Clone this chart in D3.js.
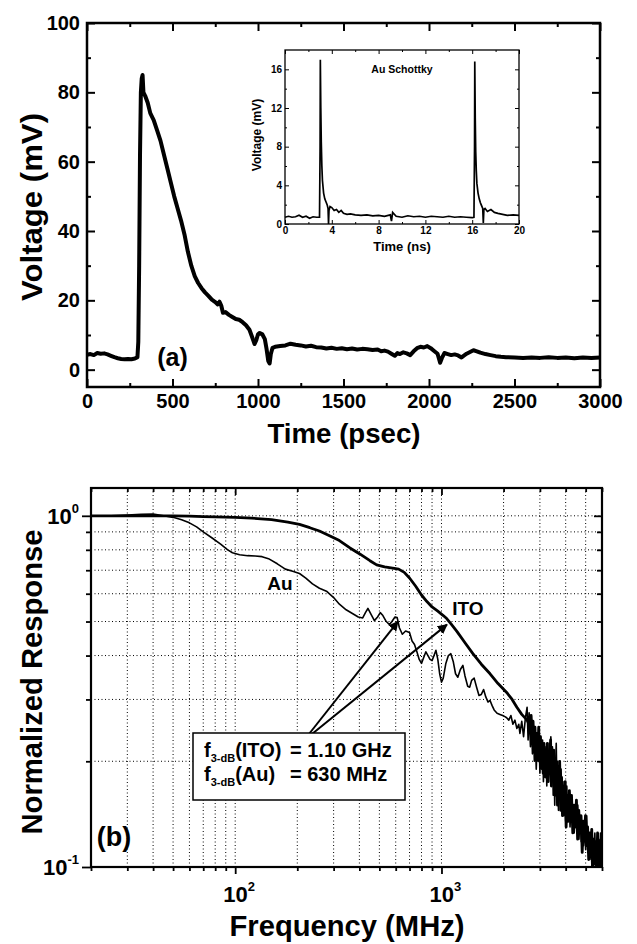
<!DOCTYPE html>
<html>
<head>
<meta charset="utf-8">
<script src="https://cdn.jsdelivr.net/npm/d3@7"></script>
<style>
  body { margin: 0; background: #fff; }
  svg text { font-family: "Liberation Sans", Arial, Helvetica, sans-serif; font-weight: bold; fill: #000; }
</style>
</head>
<body>
<svg id="fig" width="637" height="944"></svg>
<script>
// ---- panel (a): pulse response, ITO ----
const timePs = [0, 20, 40, 60, 80, 100, 120, 140, 160, 180, 200, 220, 240, 260, 280, 295, 300, 305, 310, 315, 320, 325, 330, 340, 355,
  370, 390, 410, 430, 450, 470, 490, 510, 530, 550, 570, 590, 610, 630, 650, 670, 690, 710, 730, 750, 765, 775, 785, 795, 810,
  830, 850, 870, 890, 910, 930, 950, 965, 980, 990, 1000, 1010, 1025, 1040, 1050, 1060, 1068, 1075, 1085, 1100, 1130, 1160, 1190,
  1220, 1250, 1280, 1310, 1340, 1370, 1400, 1430, 1460, 1490, 1520, 1550, 1580, 1610, 1640, 1670, 1700, 1720, 1740, 1760, 1780,
  1800, 1815, 1830, 1850, 1870, 1890, 1910, 1930, 1950, 1970, 1990, 2010, 2030, 2050, 2065, 2075, 2090, 2110, 2130, 2150, 2170,
  2190, 2200, 2220, 2240, 2260, 2280, 2300, 2330, 2360, 2390, 2420, 2450, 2500, 2550, 2600, 2650, 2700, 2750, 2800, 2850, 2900,
  2950, 3000];
const voltMv = [4.3, 4.5, 4.2, 4.8, 4.6, 4.7, 4.4, 4.0, 3.6, 3.3, 3.1, 3.0, 3.1, 3.0, 3.2, 3.6, 8, 30, 62, 80, 84, 85, 80, 79, 77,
  74, 72, 69, 66, 62, 58, 54, 50, 46.5, 43, 39, 34, 30, 27, 25, 23.5, 22.3, 21.3, 20.2, 19.5, 18.8, 19.6, 18.5, 16.4, 16.6,
  15.8, 15.2, 14.6, 14.4, 13.7, 12.8, 11.5, 9.5, 7.4, 8.5, 10.2, 10.6, 10.2, 8.8, 6.0, 2.5, 1.8, 4.5, 6.3, 6.6, 6.8, 7.0, 7.5,
  7.2, 7.0, 6.7, 6.9, 6.5, 6.4, 6.1, 6.3, 6.0, 6.2, 5.9, 6.1, 5.8, 6.0, 5.9, 5.7, 5.8, 5.3, 5.5, 5.2, 4.6,
  4.0, 4.8, 4.5, 5.0, 4.7, 4.2, 5.3, 6.2, 6.6, 6.4, 6.8, 6.2, 5.4, 4.6, 2.0, 3.3, 4.8, 4.5, 4.2, 4.4, 4.1,
  3.5, 3.9, 4.6, 5.1, 5.6, 5.3, 4.9, 4.5, 4.2, 3.9, 3.7, 3.6, 3.5, 3.4, 3.5, 3.4, 3.6, 3.4, 3.5, 3.3, 3.5,
  3.4, 3.5];
const xTicksA = [0, 500, 1000, 1500, 2000, 2500, 3000];
const yTicksA = [0, 20, 40, 60, 80, 100];

// ---- inset: Au Schottky, 20 ns window ----
const timeNs = [0, 0.3, 0.6, 0.9, 1.2, 1.5, 1.8, 2.1, 2.4, 2.7, 2.95, 3.0, 3.02, 3.06, 3.1, 3.15, 3.2, 3.3, 3.4, 3.5, 3.6, 3.68,
  3.72, 3.76, 3.85, 4.0, 4.2, 4.4, 4.6, 4.8, 5.0, 5.3, 5.6, 6.0, 6.5, 7.0, 7.5, 8.0, 8.5, 9.0, 9.1, 9.2, 9.5, 10, 10.5, 11,
  11.5, 12, 12.5, 13, 13.5, 14, 14.5, 15, 15.5, 16, 16.15, 16.2, 16.22, 16.26, 16.3, 16.35, 16.4, 16.5, 16.6, 16.7, 16.8,
  16.9, 16.95, 17.0, 17.1, 17.3, 17.6, 17.9, 18.2, 18.6, 19, 19.5, 20];
const voltInset = [0.7, 0.8, 0.7, 0.75, 0.9, 0.7, 0.8, 0.6, 0.75, 0.7, 0.7, 8, 17, 12, 8.5, 6, 4.5, 3.2, 2.6, 2.3, 2.0, 1.6,
  0.0, 1.4, 1.8, 1.7, 1.4, 1.5, 1.2, 1.4, 1.1, 1.0, 1.05, 0.95, 0.9, 0.95, 0.85, 0.9, 0.8, 0.95, 0.3, 1.2, 0.8, 0.7, 0.85, 0.75,
  0.8, 0.7, 0.8, 0.75, 0.7, 0.8, 0.7, 0.75, 0.7, 0.65, 0.7, 8, 16.8, 11, 7.5, 5.5, 4.2, 3.2, 2.6, 2.2, 1.9,
  1.6, 0.1, 1.5, 1.6, 1.3, 1.5, 1.2, 1.1, 1.0, 0.9, 0.95, 0.9];
const xTicksInset = [0, 4, 8, 12, 16, 20];
const yTicksInset = [0, 4, 8, 12, 16];

// ---- panel (b): normalized frequency response ----
const freqIto = [20, 25, 30, 40, 50, 60, 70, 80, 100, 120, 150, 180, 205, 230, 256, 290, 320, 360, 400, 450, 485, 530, 580, 620,
  660, 700, 750, 800, 850, 900, 960, 1020, 1060, 1120, 1190, 1300, 1420, 1560, 1720, 1880, 2070, 2200, 2320, 2450, 2600, 2700,
  2720, 2750, 2780, 2810, 2840, 2870, 2900, 2930, 2960, 2990, 3020, 3050, 3080, 3110, 3140, 3170, 3200, 3230, 3260, 3290, 3320,
  3350, 3380, 3410, 3440, 3470, 3500, 3530, 3560, 3590, 3620, 3650, 3680, 3710, 3740, 3780, 3820, 3860, 3900, 3940, 3980, 4020,
  4070, 4120, 4170, 4220, 4270, 4330, 4390, 4450, 4510, 4570, 4630, 4690, 4750, 4810, 4870, 4930, 4990, 5050, 5110, 5170, 5230,
  5290, 5350, 5410, 5470, 5530, 5590, 5650, 5710, 5770, 5830, 5890, 5950, 6000];
const respIto = [1.0, 1.0, 1.0, 1.0, 1.0, 0.998, 0.995, 0.993, 0.99, 0.985, 0.975, 0.96, 0.945, 0.925, 0.905, 0.875, 0.85, 0.81,
  0.78, 0.745, 0.725, 0.715, 0.71, 0.705, 0.69, 0.665, 0.63, 0.595, 0.57, 0.55, 0.535, 0.52, 0.51, 0.49, 0.468, 0.435, 0.405,
  0.378, 0.355, 0.333, 0.314, 0.3, 0.285, 0.272, 0.262, 0.25,
  0.27, 0.235, 0.26, 0.215, 0.25, 0.205, 0.24, 0.21, 0.25, 0.2, 0.235, 0.195, 0.22, 0.185, 0.225, 0.19, 0.215, 0.18, 0.225, 0.175,
  0.21, 0.19, 0.23, 0.17, 0.205, 0.18, 0.215, 0.165, 0.2, 0.16, 0.195, 0.15, 0.19, 0.165, 0.2, 0.145, 0.18, 0.14, 0.17, 0.145,
  0.175, 0.13, 0.16, 0.135, 0.165, 0.14, 0.16, 0.125, 0.15, 0.13, 0.155, 0.12, 0.145, 0.125, 0.14, 0.11, 0.135, 0.12, 0.14, 0.115,
  0.13, 0.105, 0.125, 0.11, 0.128, 0.1, 0.12, 0.102, 0.118, 0.098, 0.125, 0.1, 0.115, 0.098, 0.118, 0.1];
const freqAu = [20, 25, 30, 35, 40, 45, 50, 55, 60, 65, 70, 77, 85, 92, 97, 105, 115, 125, 135, 145, 160, 175, 190, 205, 220, 237,
  256, 277, 300, 320, 345, 370, 395, 415, 428, 440, 455, 473, 490, 505, 520, 540, 560, 575, 595, 610, 625, 646, 670, 700, 720,
  740, 760, 780, 800, 820, 840, 860, 880, 900, 920, 940, 960, 980, 1000, 1020, 1050, 1080, 1110, 1140, 1170, 1200, 1235, 1270,
  1300, 1340, 1370, 1400, 1440, 1480, 1520, 1560, 1600, 1640, 1680, 1720, 1760, 1800, 1860, 1920, 1980, 2030, 2070, 2120, 2170,
  2220, 2270, 2320, 2370, 2400, 2450, 2500, 2550, 2600, 2630, 2660, 2700, 2730, 2760, 2790, 2820, 2850, 2880, 2910, 2940, 2970,
  3000, 3030, 3060, 3090, 3120, 3150, 3180, 3210, 3240, 3270, 3300, 3330, 3360, 3390, 3420, 3450, 3480, 3510, 3540, 3570, 3600,
  3630, 3660, 3690, 3720, 3760, 3800, 3840, 3880, 3920, 3960, 4000, 4050, 4100, 4150, 4200, 4250, 4300, 4350, 4400, 4460, 4520,
  4580, 4640, 4700, 4760, 4820, 4880, 4940, 5000, 5060, 5120, 5180, 5240, 5300, 5360, 5420, 5480, 5540, 5600, 5660, 5720, 5780,
  5840, 5900, 5950, 6000];
const respAu = [1.0, 1.0, 1.005, 1.01, 1.012, 1.0, 0.99, 0.975, 0.955, 0.93, 0.9, 0.866, 0.83, 0.8, 0.785, 0.775, 0.77, 0.768,
  0.765, 0.755, 0.73, 0.705, 0.695, 0.685, 0.665, 0.64, 0.622, 0.61, 0.585, 0.56, 0.54, 0.527, 0.515, 0.512, 0.53, 0.545, 0.525,
  0.503, 0.515, 0.53, 0.52, 0.5, 0.49, 0.5, 0.515, 0.513, 0.48, 0.46, 0.47, 0.465, 0.44, 0.43, 0.41, 0.39, 0.38, 0.395, 0.41,
  0.4, 0.39, 0.387, 0.4, 0.414, 0.39, 0.355, 0.336, 0.345, 0.38, 0.4, 0.405, 0.385, 0.355, 0.347, 0.365, 0.375, 0.35, 0.327,
  0.325, 0.34, 0.345, 0.325, 0.308, 0.31, 0.32, 0.305, 0.295, 0.298, 0.288, 0.28, 0.274, 0.272, 0.27, 0.268, 0.266, 0.262, 0.27,
  0.255, 0.262, 0.248, 0.255, 0.24, 0.26, 0.235, 0.265, 0.285, 0.23, 0.275, 0.22, 0.26, 0.21, 0.245, 0.2, 0.235, 0.19, 0.225,
  0.2, 0.24, 0.185, 0.215, 0.19, 0.23, 0.175, 0.205, 0.18, 0.22, 0.17, 0.21, 0.185, 0.225, 0.2, 0.235, 0.18, 0.22, 0.16, 0.2,
  0.15, 0.19, 0.225, 0.165, 0.2, 0.145, 0.18, 0.155, 0.19, 0.15, 0.175, 0.14, 0.165, 0.135, 0.17, 0.14, 0.16, 0.13, 0.155,
  0.135, 0.15, 0.125, 0.145, 0.13, 0.15, 0.12, 0.14, 0.118, 0.135, 0.115, 0.13, 0.112, 0.14, 0.11, 0.125, 0.105, 0.12, 0.1,
  0.118, 0.105, 0.125, 0.1, 0.115, 0.098, 0.12, 0.1, 0.125, 0.098, 0.108];
const gridFreq = [30, 40, 50, 60, 70, 80, 90, 100, 200, 300, 400, 500, 600, 700, 800, 900, 1000, 2000, 3000, 4000, 5000];
const gridResp = [0.2, 0.3, 0.4, 0.5, 0.6, 0.7, 0.8, 0.9, 1.0];
const f3dbAu = 615, f3dbIto = 1063;

const svg = d3.select('#fig');

function mirrorTicks(g, axis) {
  g.call(axis);
  g.select('.domain').remove();
  g.selectAll('.tick line').attr('stroke', '#000');
  return g;
}

// ================= panel (a) =================
const xA = d3.scaleLinear().domain([0, 3000]).range([87, 600]);
const yA = d3.scaleLinear().domain([-5, 100]).range([387, 23]);
const minorXA = d3.range(250, 3000, 500);
const minorYA = d3.range(10, 100, 20);

const pa = svg.append('g');

mirrorTicks(pa.append('g').attr('transform', 'translate(0,387)'),
  d3.axisBottom(xA).tickValues(xTicksA).tickSize(-8).tickPadding(7).tickFormat(d3.format('d')))
  .selectAll('text').style('font-size', '20px');
mirrorTicks(pa.append('g').attr('transform', 'translate(0,387)'),
  d3.axisBottom(xA).tickValues(minorXA).tickSize(-4).tickFormat(''));
mirrorTicks(pa.append('g').attr('transform', 'translate(0,23)'),
  d3.axisTop(xA).tickValues(xTicksA).tickSize(-8).tickFormat(''));
mirrorTicks(pa.append('g').attr('transform', 'translate(0,23)'),
  d3.axisTop(xA).tickValues(minorXA).tickSize(-4).tickFormat(''));

mirrorTicks(pa.append('g').attr('transform', 'translate(87,0)'),
  d3.axisLeft(yA).tickValues(yTicksA).tickSize(-8).tickPadding(7))
  .selectAll('text').style('font-size', '20px');
mirrorTicks(pa.append('g').attr('transform', 'translate(87,0)'),
  d3.axisLeft(yA).tickValues(minorYA).tickSize(-4).tickFormat(''));
mirrorTicks(pa.append('g').attr('transform', 'translate(600,0)'),
  d3.axisRight(yA).tickValues(yTicksA).tickSize(-8).tickFormat(''));
mirrorTicks(pa.append('g').attr('transform', 'translate(600,0)'),
  d3.axisRight(yA).tickValues(minorYA).tickSize(-4).tickFormat(''));
pa.selectAll('.tick line').attr('stroke-width', 2);

pa.append('path')
  .datum(timePs.map((t, i) => [t, voltMv[i]]))
  .attr('fill', 'none')
  .attr('stroke', '#000')
  .attr('stroke-width', 4)
  .attr('stroke-linejoin', 'round')
  .attr('d', d3.line().x(d => xA(d[0])).y(d => yA(d[1])));

pa.append('rect')
  .attr('x', 87).attr('y', 23).attr('width', 513).attr('height', 364)
  .attr('fill', 'none').attr('stroke', '#000').attr('stroke-width', 2.5);

pa.append('text').attr('x', xA(500)).attr('y', 366)
  .attr('text-anchor', 'middle').style('font-size', '25px').text('(a)');
pa.append('text').attr('x', 344).attr('y', 443)
  .attr('text-anchor', 'middle').style('font-size', '27px')
  .attr('textLength', 153).attr('lengthAdjust', 'spacingAndGlyphs').text('Time (psec)');
pa.append('text').attr('transform', 'translate(42,207) rotate(-90)')
  .attr('text-anchor', 'middle').style('font-size', '29px')
  .attr('textLength', 188).attr('lengthAdjust', 'spacingAndGlyphs').text('Voltage (mV)');

// ---- inset ----
const xI = d3.scaleLinear().domain([0, 20]).range([285, 519]);
const yI = d3.scaleLinear().domain([0, 18]).range([224, 50]);
const ins = svg.append('g');

mirrorTicks(ins.append('g').attr('transform', 'translate(0,224)'),
  d3.axisBottom(xI).tickValues(xTicksInset).tickSize(-4).tickPadding(3))
  .selectAll('text').style('font-size', '10px');
mirrorTicks(ins.append('g').attr('transform', 'translate(0,224)'),
  d3.axisBottom(xI).tickValues(d3.range(2, 20, 4)).tickSize(-2).tickFormat(''));
mirrorTicks(ins.append('g').attr('transform', 'translate(0,50)'),
  d3.axisTop(xI).tickValues(xTicksInset).tickSize(-4).tickFormat(''));
mirrorTicks(ins.append('g').attr('transform', 'translate(0,50)'),
  d3.axisTop(xI).tickValues(d3.range(2, 20, 4)).tickSize(-2).tickFormat(''));
mirrorTicks(ins.append('g').attr('transform', 'translate(285,0)'),
  d3.axisLeft(yI).tickValues(yTicksInset).tickSize(-4).tickPadding(3))
  .selectAll('text').style('font-size', '10px');
mirrorTicks(ins.append('g').attr('transform', 'translate(285,0)'),
  d3.axisLeft(yI).tickValues(d3.range(2, 18, 4)).tickSize(-2).tickFormat(''));
mirrorTicks(ins.append('g').attr('transform', 'translate(519,0)'),
  d3.axisRight(yI).tickValues(yTicksInset).tickSize(-4).tickFormat(''));
mirrorTicks(ins.append('g').attr('transform', 'translate(519,0)'),
  d3.axisRight(yI).tickValues(d3.range(2, 18, 4)).tickSize(-2).tickFormat(''));

ins.append('path')
  .datum(timeNs.map((t, i) => [t, voltInset[i]]))
  .attr('fill', 'none').attr('stroke', '#000').attr('stroke-width', 1.7)
  .attr('d', d3.line().x(d => xI(d[0])).y(d => yI(d[1])));

ins.append('rect')
  .attr('x', 285).attr('y', 50).attr('width', 234).attr('height', 174)
  .attr('fill', 'none').attr('stroke', '#000').attr('stroke-width', 1.3);

ins.append('text').attr('x', 402).attr('y', 73).attr('text-anchor', 'middle')
  .style('font-size', '10.5px').text('Au Schottky');
ins.append('text').attr('x', 402).attr('y', 251).attr('text-anchor', 'middle')
  .style('font-size', '13px').text('Time (ns)');
ins.append('text').attr('transform', 'translate(261,135) rotate(-90)')
  .attr('text-anchor', 'middle').style('font-size', '12px').text('Voltage (mV)');

// ================= panel (b) =================
const xB = d3.scaleLog().domain([20, 6000]).range([91, 602]);
const yB = d3.scaleLog().domain([0.1, 1.2]).range([867, 488]);
const minorXB = [20, 30, 40, 50, 60, 70, 80, 90, 200, 300, 400, 500, 600, 700, 800, 900, 2000, 3000, 4000, 5000, 6000];
const minorYB = [0.2, 0.3, 0.4, 0.5, 0.6, 0.7, 0.8, 0.9];

const pb = svg.append('g');

pb.append('clipPath').attr('id', 'clipB')
  .append('rect').attr('x', 91).attr('y', 488).attr('width', 511).attr('height', 379);

// dotted grid
pb.append('g').selectAll('line').data(gridFreq).join('line')
  .attr('x1', d => xB(d)).attr('x2', d => xB(d)).attr('y1', 488).attr('y2', 867)
  .attr('stroke', '#000').attr('stroke-width', 1).attr('stroke-dasharray', '1,2.5');
pb.append('g').selectAll('line').data(gridResp).join('line')
  .attr('y1', d => yB(d)).attr('y2', d => yB(d)).attr('x1', 91).attr('x2', 602)
  .attr('stroke', '#000').attr('stroke-width', 1).attr('stroke-dasharray', '1,2.5');

// ticks: outward on left/bottom, inward on right/top
mirrorTicks(pb.append('g').attr('transform', 'translate(0,867)'),
  d3.axisBottom(xB).tickValues([100, 1000]).tickSize(7).tickFormat(''));
mirrorTicks(pb.append('g').attr('transform', 'translate(0,867)'),
  d3.axisBottom(xB).tickValues(minorXB).tickSize(4).tickFormat(''));
mirrorTicks(pb.append('g').attr('transform', 'translate(0,488)'),
  d3.axisTop(xB).tickValues([100, 1000]).tickSize(-7).tickFormat(''));
mirrorTicks(pb.append('g').attr('transform', 'translate(0,488)'),
  d3.axisTop(xB).tickValues(minorXB).tickSize(-4).tickFormat(''));
mirrorTicks(pb.append('g').attr('transform', 'translate(91,0)'),
  d3.axisLeft(yB).tickValues([0.1, 1]).tickSize(9).tickFormat(''));
mirrorTicks(pb.append('g').attr('transform', 'translate(91,0)'),
  d3.axisLeft(yB).tickValues(minorYB).tickSize(5).tickFormat(''));
mirrorTicks(pb.append('g').attr('transform', 'translate(602,0)'),
  d3.axisRight(yB).tickValues([1]).tickSize(-8).tickFormat(''));
mirrorTicks(pb.append('g').attr('transform', 'translate(602,0)'),
  d3.axisRight(yB).tickValues(minorYB).tickSize(-5).tickFormat(''));
pb.selectAll('.tick line').attr('stroke-width', 1.8);

const lineB = d3.line().x(d => xB(d[0])).y(d => yB(d[1]));
const curves = pb.append('g').attr('clip-path', 'url(#clipB)');
curves.append('path')
  .datum(freqAu.map((f, i) => [f, respAu[i]]))
  .attr('fill', 'none').attr('stroke', '#000').attr('stroke-width', 1.6)
  .attr('stroke-linejoin', 'round').attr('d', lineB);
curves.append('path')
  .datum(freqIto.map((f, i) => [f, respIto[i]]))
  .attr('fill', 'none').attr('stroke', '#000').attr('stroke-width', 2.8)
  .attr('stroke-linejoin', 'round').attr('d', lineB);

pb.append('rect')
  .attr('x', 91).attr('y', 488).attr('width', 511).attr('height', 379)
  .attr('fill', 'none').attr('stroke', '#000').attr('stroke-width', 2.2);

// tick labels with superscripts
function powLabel(x, y, base, exp, anchor) {
  const t = pb.append('text').attr('x', x).attr('y', y).attr('text-anchor', anchor);
  t.append('tspan').style('font-size', '22px').text(base);
  t.append('tspan').attr('dy', -11).style('font-size', '13px').text(exp);
}
powLabel(79, yB(1) + 8, '10', '0', 'end');
powLabel(79, yB(0.1) + 8, '10', '-1', 'end');
powLabel(xB(100) + 4, 902, '10', '2', 'middle');
powLabel(xB(1000) + 4, 902, '10', '3', 'middle');

// arrows to the -3 dB points
const defs = svg.append('defs');
defs.append('marker').attr('id', 'head')
  .attr('viewBox', '0 0 10 10').attr('refX', 9).attr('refY', 5)
  .attr('markerWidth', 5).attr('markerHeight', 5).attr('orient', 'auto')
  .append('path').attr('d', 'M0,0 L10,5 L0,10 Z').attr('fill', '#000');
pb.append('line').attr('x1', 309).attr('y1', 734).attr('x2', xB(f3dbAu)).attr('y2', yB(0.5))
  .attr('stroke', '#000').attr('stroke-width', 2).attr('marker-end', 'url(#head)');
pb.append('line').attr('x1', 312).attr('y1', 734).attr('x2', xB(f3dbIto)).attr('y2', yB(0.49))
  .attr('stroke', '#000').attr('stroke-width', 2).attr('marker-end', 'url(#head)');

// annotation box
pb.append('rect').attr('x', 193).attr('y', 733).attr('width', 212).attr('height', 67)
  .attr('fill', '#fff').attr('stroke', '#000').attr('stroke-width', 1.5);
[['(ITO)', '= 1.10 GHz', 757], ['(Au)', '= 630 MHz', 781]].forEach(([who, val, y]) => {
  const t = pb.append('text').attr('x', 204).attr('y', y).style('font-size', '20px');
  t.append('tspan').text('f');
  t.append('tspan').attr('dy', 5).style('font-size', '11px').text('3-dB');
  t.append('tspan').attr('dy', -5).text(who);
  pb.append('text').attr('x', 290).attr('y', y).style('font-size', '20px').text(val);
});

pb.append('text').attr('x', 280).attr('y', 590).attr('text-anchor', 'middle')
  .style('font-size', '19px').text('Au');
pb.append('text').attr('x', 468).attr('y', 615).attr('text-anchor', 'middle')
  .style('font-size', '19px').text('ITO');
pb.append('text').attr('x', 114).attr('y', 846).attr('text-anchor', 'middle')
  .style('font-size', '27px').text('(b)');

pb.append('text').attr('x', 347).attr('y', 936).attr('text-anchor', 'middle')
  .style('font-size', '29px').attr('textLength', 235).attr('lengthAdjust', 'spacingAndGlyphs')
  .text('Frequency (MHz)');
pb.append('text').attr('transform', 'translate(42,682) rotate(-90)')
  .attr('text-anchor', 'middle').style('font-size', '30px')
  .attr('textLength', 305).attr('lengthAdjust', 'spacingAndGlyphs').text('Normalized Response');
</script>
</body>
</html>
